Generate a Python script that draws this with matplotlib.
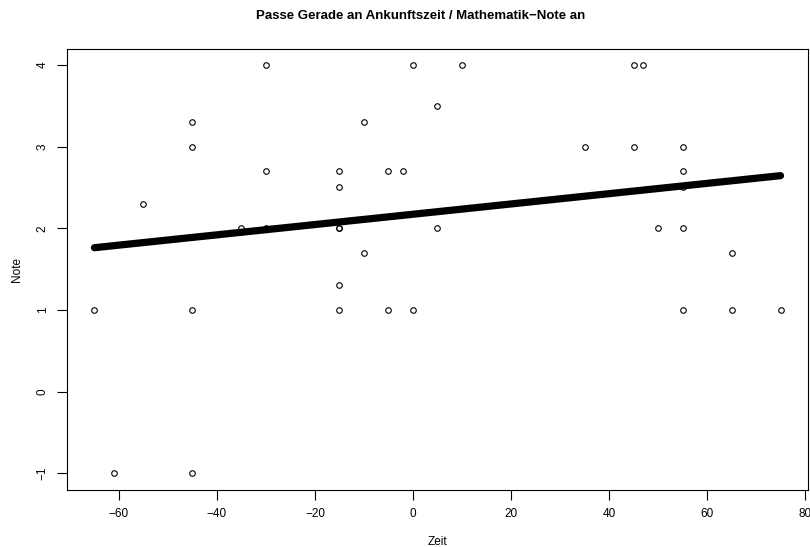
import numpy as np
import matplotlib.pyplot as plt

plt.rcParams['font.family'] = ['Liberation Sans', 'DejaVu Sans']

# arrival time (minutes) and maths grade
zeit = [-65, -61, -55, -45, -45, -45, -45, -35, -30, -30, -30,
        -15, -15, -15, -15, -15, -15, -10, -10, -5, -5, -2, 0, 0,
        5, 5, 10, 35, 45, 45, 47, 50, 55, 55, 55, 55, 55, 65, 65, 75]
note = [1, -1, 2.3, 3.3, 3, 1, -1, 2, 4, 2.7, 2,
        2.7, 2.5, 2, 2, 1.3, 1, 3.3, 1.7, 2.7, 1, 2.7, 4, 1,
        3.5, 2, 4, 3, 4, 3, 4, 2, 3, 2.7, 2.5, 2, 1, 1.7, 1, 1]

x = np.array(zeit, dtype=float)
y = np.array(note, dtype=float)

# least squares fit
b, a = np.polyfit(x, y, 1)
xs = np.array([x.min(), x.max()])

fig = plt.figure(figsize=(8.1, 5.47), dpi=100)
ax = fig.add_axes([0.0827, 0.105, 0.9148, 0.806])

ax.plot(xs, a + b * xs, color='black', linewidth=5.2, solid_capstyle='round', zorder=3)
ax.plot(x, y, linestyle='none', marker='o', markersize=4, markerfacecolor='none',
        markeredgecolor='black', markeredgewidth=0.8, zorder=2)

ax.set_xlim(-70.6, 80.6)
ax.set_ylim(-1.2, 4.2)
ax.set_xticks([-60, -40, -20, 0, 20, 40, 60, 80])
ax.set_yticks([-1, 0, 1, 2, 3, 4])
ax.set_xticklabels(['\u221260', '\u221240', '\u221220', '0', '20', '40', '60', '80'])
ax.set_yticklabels(['\u22121', '0', '1', '2', '3', '4'], rotation=90, va='center')
ax.tick_params(direction='out', length=7, width=0.8, labelsize=8.5, pad=6)
for s in ax.spines.values():
    s.set_linewidth(0.8)

ax.set_xlabel('Zeit', fontsize=8.5, labelpad=12)
ax.set_ylabel('Note', fontsize=8.5, labelpad=10)
fig.text(0.519, 0.97, 'Passe Gerade an Ankunftszeit / Mathematik\u2212Note an',
         ha='center', va='center', fontsize=9.5, fontweight='bold')

fig.savefig('out.png', dpi=100)
